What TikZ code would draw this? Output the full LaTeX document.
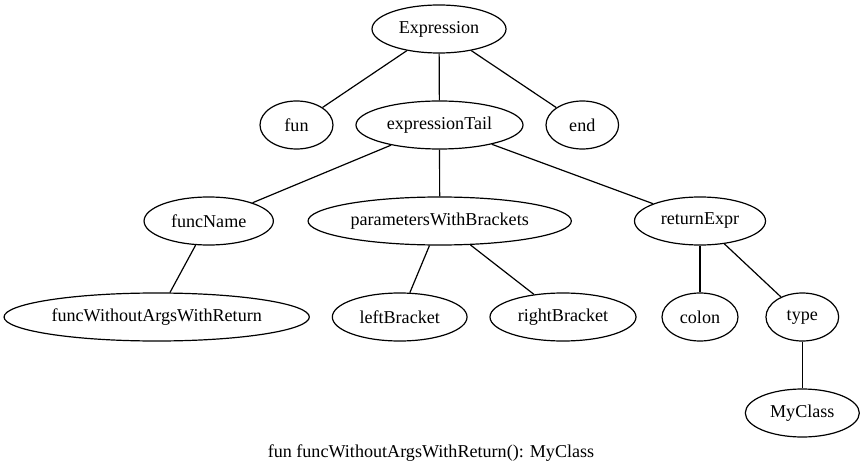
\documentclass[tikz,border=0pt]{standalone}
\usepackage{fontspec}
\setmainfont{Liberation Serif}
\usetikzlibrary{shapes.geometric}
\begin{document}
\begin{tikzpicture}[x=1pt,y=-1pt,
  tnode/.style={ellipse,draw,line width=1.2pt,inner sep=0pt,minimum height=48pt,
    font=\fontsize{18.1}{22}\selectfont},
  edge/.style={line width=1.2pt}]
\useasboundingbox (0,0) rectangle (864,473);
\node[tnode,minimum width=134pt] (E) at (439,29) {Expression};
\node[tnode,minimum width=73pt] (fun) at (296.5,125) {fun};
\node[tnode,minimum width=167pt] (eT) at (439.5,125) {expressionTail};
\node[tnode,minimum width=72.6pt] (end) at (582.3,125) {end};
\node[tnode,minimum width=129.3pt] (fN) at (208.7,221) {funcName};
\node[tnode,minimum width=263.3pt] (pWB) at (439.7,221) {parametersWithBrackets};
\node[tnode,minimum width=131pt] (rE) at (700,221) {returnExpr};
\node[tnode,minimum width=305.3pt] (fW) at (156.7,317) {funcWithoutArgsWithReturn};
\node[tnode,minimum width=134.7pt] (lB) at (399.7,317) {leftBracket};
\node[tnode,minimum width=146pt] (rB) at (563,317) {rightBracket};
\node[tnode,minimum width=76pt] (colon) at (700,317) {colon};
\node[tnode,minimum width=72.7pt] (type) at (802.3,317) {type};
\node[tnode,minimum width=114pt] (MC) at (802.3,413) {MyClass};
\node[font=\fontsize{18.1}{22}\selectfont,inner sep=0pt] (cap) at (431,453) {fun funcWithoutArgsWithReturn(): MyClass};
\draw[edge] (E) -- (fun);
\draw[edge] (E) -- (eT);
\draw[edge] (E) -- (end);
\draw[edge] (eT) -- (fN);
\draw[edge] (eT) -- (pWB);
\draw[edge] (eT) -- (rE);
\draw[edge] (fN) -- (fW);
\draw[edge] (pWB) -- (lB);
\draw[edge] (pWB) -- (rB);
\draw[edge] (rE) -- (colon);
\draw[edge] (rE) -- (type);
\draw[edge] (type) -- (MC);
\end{tikzpicture}
\end{document}
